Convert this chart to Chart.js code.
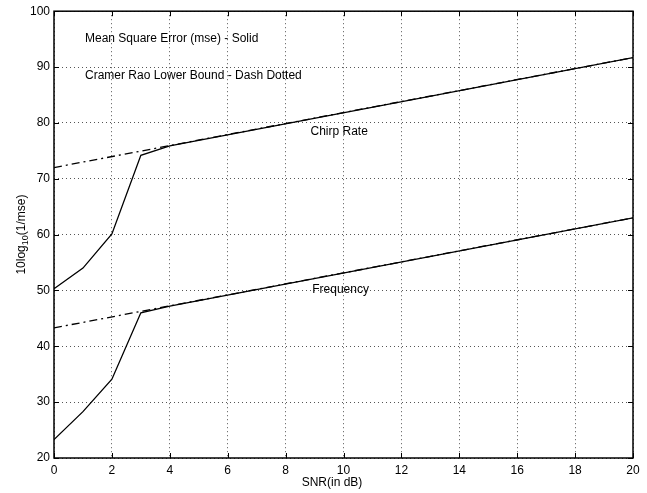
<!DOCTYPE html>
<html>
<head>
<meta charset="utf-8">
<script src="https://cdn.jsdelivr.net/npm/chart.js@4.4.1/dist/chart.umd.min.js"></script>
<style>
  html, body { margin: 0; padding: 0; background: #fff; }
  #wrap { width: 647px; height: 493px; }
</style>
</head>
<body>
<div id="wrap"><canvas id="chart" width="647" height="493"></canvas></div>
<script>
// values
var chirpSnr   = [0, 1, 2, 3, 4, 20];
var chirpMse   = [50.3, 54.0, 60.1, 74.2, 75.9, 91.7];
var chirpCrbSnr = [0, 20];
var chirpCrb   = [72.0, 91.7];

var freqSnr    = [0, 1, 2, 3, 4, 20];
var freqMse    = [23.3, 28.3, 34.1, 46.0, 47.2, 63.0];
var freqCrbSnr = [0, 20];
var freqCrb    = [43.3, 63.0];

var xTicks = [0, 2, 4, 6, 8, 10, 12, 14, 16, 18, 20];
var yTicks = [20, 30, 40, 50, 60, 70, 80, 90, 100];

var notes = [
    {text: 'Mean Square Error (mse) - Solid', x: 1.07, y: 95.1, align: 'left'},
    {text: 'Cramer Rao Lower Bound - Dash Dotted', x: 1.07, y: 88.5, align: 'left'},
    {text: 'Chirp Rate', x: 9.85, y: 78.5, align: 'center'},
    {text: 'Frequency', x: 9.9, y: 50.1, align: 'center'}
];

var FONT = '"Liberation Sans", Arial, Helvetica, sans-serif';

function pts(xs, ys) {
    var out = [];
    for (var i = 0; i < xs.length; i++) out.push({x: xs[i], y: ys[i]});
    return out;
}

// box, inward ticks, y title and text notes
var matlabLook = {
    id: 'matlabLook',
    afterDatasetsDraw: function(chart) {
        var ctx = chart.ctx, a = chart.chartArea;
        var xs = chart.scales.x, ys = chart.scales.y;
        ctx.save();
        ctx.strokeStyle = '#000';
        ctx.lineWidth = 1;
        ctx.beginPath();
        xTicks.forEach(function(v) {
            var px = Math.round(xs.getPixelForValue(v)) + 0.5;
            ctx.moveTo(px, a.bottom); ctx.lineTo(px, a.bottom - 5);
            ctx.moveTo(px, a.top); ctx.lineTo(px, a.top + 5);
        });
        yTicks.forEach(function(v) {
            var py = Math.round(ys.getPixelForValue(v)) + 0.5;
            ctx.moveTo(a.left, py); ctx.lineTo(a.left + 5, py);
            ctx.moveTo(a.right, py); ctx.lineTo(a.right - 5, py);
        });
        ctx.stroke();
        ctx.lineWidth = 1.5;
        ctx.strokeRect(a.left, a.top, a.right - a.left, a.bottom - a.top);

        ctx.fillStyle = '#000';
        ctx.font = '12px ' + FONT;
        ctx.textBaseline = 'middle';
        notes.forEach(function(n) {
            ctx.textAlign = n.align;
            ctx.fillText(n.text, xs.getPixelForValue(n.x), ys.getPixelForValue(n.y));
        });

        // x axis title
        ctx.textAlign = 'center';
        ctx.fillText('SNR(in dB)', 332, 483);

        // y axis title with subscript
        var cy = (a.top + a.bottom) / 2;
        ctx.translate(22, cy);
        ctx.rotate(-Math.PI / 2);
        var p1 = '10log', sub = '10', p2 = '(1/mse)';
        ctx.font = '12px ' + FONT;
        var w1 = ctx.measureText(p1).width, w3 = ctx.measureText(p2).width;
        ctx.font = '9px ' + FONT;
        var w2 = ctx.measureText(sub).width;
        var x0 = -(w1 + w2 + w3) / 2;
        ctx.textAlign = 'left';
        ctx.font = '12px ' + FONT;
        ctx.fillText(p1, x0, 0);
        ctx.font = '9px ' + FONT;
        ctx.fillText(sub, x0 + w1, 4);
        ctx.font = '12px ' + FONT;
        ctx.fillText(p2, x0 + w1 + w2, 0);
        ctx.restore();
    }
};

var solid = {borderColor: '#000', borderWidth: 1.3, pointRadius: 0, showLine: true, fill: false};
var dashDot = {borderColor: '#000', borderWidth: 1.3, pointRadius: 0, showLine: true, fill: false,
               borderDash: [8, 4, 2, 4]};

var ctx = document.getElementById('chart').getContext('2d');
var chart = new Chart(ctx, {
    type: 'scatter',
    data: {
        datasets: [
            Object.assign({label: 'Chirp Rate CRLB', data: pts(chirpCrbSnr, chirpCrb)}, dashDot),
            Object.assign({label: 'Frequency CRLB', data: pts(freqCrbSnr, freqCrb)}, dashDot),
            Object.assign({label: 'Chirp Rate mse', data: pts(chirpSnr, chirpMse)}, solid),
            Object.assign({label: 'Frequency mse', data: pts(freqSnr, freqMse)}, solid)
        ]
    },
    options: {
        responsive: false,
        animation: false,
        layout: {padding: {left: 0, top: 7, right: 14, bottom: 0}},
        plugins: {legend: {display: false}, tooltip: {enabled: false}},
        scales: {
            x: {
                type: 'linear', min: 0, max: 20,
                afterFit: function(s) { s.height = 35; },
                afterBuildTicks: function(s) { s.ticks = xTicks.map(function(v) { return {value: v}; }); },
                border: {display: false, dash: [1, 3]},
                grid: {color: '#555', lineWidth: 1, drawTicks: false},
                ticks: {color: '#000', font: {family: FONT, size: 12}, padding: 5, maxRotation: 0}
            },
            y: {
                type: 'linear', min: 20, max: 100,
                afterFit: function(s) { s.width = 54; },
                afterBuildTicks: function(s) { s.ticks = yTicks.map(function(v) { return {value: v}; }); },
                border: {display: false, dash: [1, 3]},
                grid: {color: '#555', lineWidth: 1, drawTicks: false},
                ticks: {color: '#000', font: {family: FONT, size: 12}, padding: 4}
            }
        }
    },
    plugins: [matlabLook]
});
</script>
</body>
</html>
